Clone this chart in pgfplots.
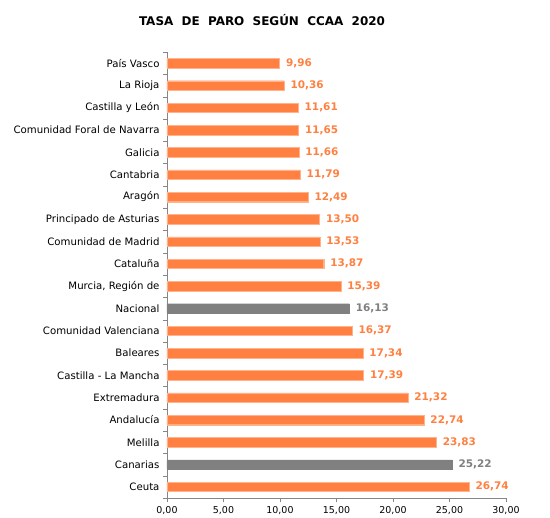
\documentclass[border=0pt]{standalone}
\usepackage{pgfplots}
\pgfplotsset{compat=1.18}
\usepackage{fontspec}
\setmainfont{DejaVu Sans}
\definecolor{barorange}{RGB}{255,128,64}
\definecolor{bargray}{RGB}{128,128,128}
\definecolor{axgray}{RGB}{134,134,134}
\begin{document}
\begin{tikzpicture}
\path[use as bounding box] (-167bp,-20bp) rectangle (383bp,498bp);
\node[font=\bfseries\fontsize{12}{14}\selectfont] at (95bp,478bp) {TASA\ \ DE\ \ PARO\ \ SEGÚN\ \ CCAA\ \ 2020};
\begin{axis}[
  at={(0,0)}, anchor=south west,
  scale only axis, width=339bp, height=446bp,
  xmin=0, xmax=30, ymin=0.5, ymax=20.5,
  y dir=reverse,
  axis lines*=left,
  axis line style={axgray, -},
  xtick={0,5,...,30},
  ytick={1,...,20},
  yticklabels={País Vasco,La Rioja,Castilla y León,Comunidad Foral de Navarra,Galicia,Cantabria,Aragón,Principado de Asturias,Comunidad de Madrid,Cataluña,{Murcia, Región de},Nacional,Comunidad Valenciana,Baleares,Castilla - La Mancha,Extremadura,Andalucía,Melilla,Canarias,Ceuta},
  minor ytick={0.5,1.5,...,20.5},
  tick align=outside,
  major tick length=4bp,
  minor tick length=4bp,
  y tick style={draw=none},
  minor y tick style={draw=axgray},
  x tick style={draw=axgray},
  yticklabel style={font=\fontsize{10.2}{12}\selectfont, text=black},
  xticklabel style={font=\fontsize{9.5}{11}\selectfont, text=black, yshift=-1bp},
  /pgf/number format/.cd, use comma, fixed, fixed zerofill, precision=2, assume math mode=true,
  /pgfplots/.cd,
  xbar, bar width=9.5bp, bar shift=0pt,
  nodes near coords,
  nodes near coords style={font=\bfseries\fontsize{10.5}{12}\selectfont, anchor=west, xshift=3bp},
  clip=false,
]
\addplot[fill=barorange, draw=barorange!60!white, nodes near coords style={text=barorange}] coordinates {
(9.96,1) (10.36,2) (11.61,3) (11.65,4) (11.66,5) (11.79,6) (12.49,7) (13.50,8) (13.53,9) (13.87,10) (15.39,11)
(16.37,13) (17.34,14) (17.39,15) (21.32,16) (22.74,17) (23.83,18) (26.74,20)};
\addplot[fill=bargray, draw=bargray, nodes near coords style={text=bargray}] coordinates {
(16.13,12) (25.22,19)};
\end{axis}
\end{tikzpicture}
\end{document}
